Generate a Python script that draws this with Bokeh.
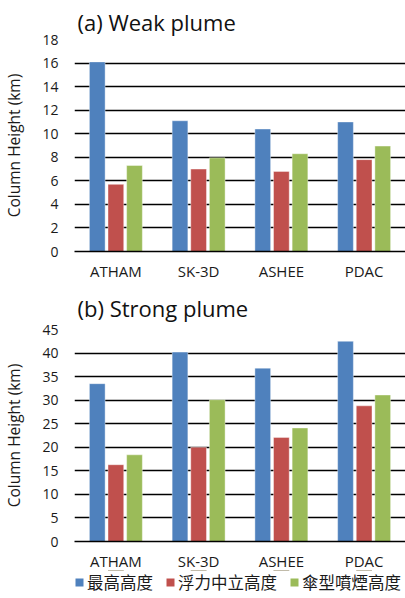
from bokeh.plotting import figure
from bokeh.layouts import column
from bokeh.models import ColumnDataSource, Legend, LegendItem, FactorRange, Range1d
from bokeh.transform import dodge
from bokeh.embed import file_html
from bokeh.resources import INLINE

models = ["ATHAM", "SK-3D", "ASHEE", "PDAC"]
series_names = ["最高高度", "浮力中立高度", "傘型噴煙高度"]
colors = ["#4F81BD", "#C0504D", "#9BBB59"]

weak_max = [16.1, 11.1, 10.4, 11.0]
weak_nbl = [5.7, 7.0, 6.8, 7.8]
weak_umb = [7.3, 7.95, 8.3, 8.95]

strong_max = [33.5, 40.2, 36.8, 42.5]
strong_nbl = [16.3, 20.0, 22.1, 28.8]
strong_umb = [18.4, 30.1, 24.1, 31.1]

weak_ticks = list(range(0, 19, 2))
strong_ticks = list(range(0, 46, 5))

FONT = "Open Sans"
CJK = "Noto Sans CJK TC"
TXT = "#1a1a1a"
W = 405


def make_fig(title, vals, ymax, ticks, height, top, bottom, tstand):
    src = ColumnDataSource(dict(m=models, a=vals[0], b=vals[1], c=vals[2]))
    p = figure(x_range=FactorRange(*models), y_range=(0, ymax), width=W, height=height,
               output_backend="svg", toolbar_location=None, title=title,
               min_border_left=72, min_border_right=0, min_border_top=top,
               min_border_bottom=bottom)
    p.outline_line_color = None
    p.title.text_font = FONT
    p.title.text_font_size = "22px"
    p.title.text_font_style = "normal"
    p.title.text_color = "#111111"
    p.title.align = "left"
    p.title.offset = 3
    p.title.standoff = tstand

    for key, off, col in zip(["a", "b", "c"], [-0.225, 0.0, 0.225], colors):
        p.vbar(x=dodge("m", off, range=p.x_range), top=key, width=0.19, source=src,
               fill_color=col, line_color="white", line_alpha=0.4, line_width=1)

    p.yaxis.ticker = ticks
    p.yaxis.axis_line_color = None
    p.yaxis.major_tick_line_color = None
    p.yaxis.minor_tick_line_color = None
    p.yaxis.major_tick_out = 0
    p.yaxis.minor_tick_out = 0
    p.yaxis.major_label_text_font = FONT
    p.yaxis.major_label_text_font_size = "14px"
    p.yaxis.major_label_text_color = TXT
    p.yaxis.major_label_standoff = 16
    p.yaxis.axis_label = "Column Height (km)"
    p.yaxis.axis_label_text_font = FONT
    p.yaxis.axis_label_text_font_size = "15.5px"
    p.yaxis.axis_label_text_font_style = "normal"
    p.yaxis.axis_label_text_color = TXT
    p.yaxis.axis_label_standoff = 14

    p.xaxis.axis_line_color = "black"
    p.xaxis.axis_line_width = 1.5
    p.xaxis.major_tick_line_color = None
    p.xaxis.minor_tick_line_color = None
    p.xaxis.major_tick_out = 0
    p.xaxis.minor_tick_out = 0
    p.xaxis.major_label_text_font = FONT
    p.xaxis.major_label_text_font_size = "15px"
    p.xaxis.major_label_text_color = TXT
    p.xaxis.major_label_standoff = 9

    p.xgrid.grid_line_color = None
    p.ygrid.grid_line_color = "black"
    p.ygrid.grid_line_width = 1.5
    return p, src


p1, _ = make_fig("(a) Weak plume", [weak_max, weak_nbl, weak_umb], 18, weak_ticks,
                 283, 39, 32, 6)
p2, src2 = make_fig("(b) Strong plume", [strong_max, strong_nbl, strong_umb], 45, strong_ticks,
                    290, 46, 32, 13)

# legend strip: proxy bars (outside the visible range) carry the series colours
p3 = figure(width=W, height=28, output_backend="svg", toolbar_location=None,
            x_range=FactorRange(*models), y_range=Range1d(-2, -1),
            x_axis_location=None, y_axis_location=None,
            min_border_left=0, min_border_right=0, min_border_top=0, min_border_bottom=0)
p3.margin = (-3, 0, 0, 0)
p3.outline_line_color = None
p3.background_fill_alpha = 0
p3.border_fill_alpha = 0
p3.xgrid.grid_line_color = None
p3.ygrid.grid_line_color = None
proxies = []
for key, col in zip(["a", "b", "c"], colors):
    proxies.append(p3.vbar(x="m", top=key, width=0.19, source=src2,
                           fill_color=col, line_color=None))
items = [LegendItem(label=n, renderers=[r]) for n, r in zip(series_names, proxies)]
leg = Legend(items=items, orientation="horizontal", location=(0, 4),
             label_text_font=CJK, label_text_font_size="16.5px",
             label_text_line_height=1.0,
             label_text_color=TXT, glyph_width=10, glyph_height=10,
             label_standoff=3, spacing=12, padding=0, margin=0,
             border_line_color=None, background_fill_alpha=0)
p3.add_layout(leg)

layout = column(p1, p2, p3, spacing=0)
open("out.html", "w").write(file_html(layout, INLINE))
